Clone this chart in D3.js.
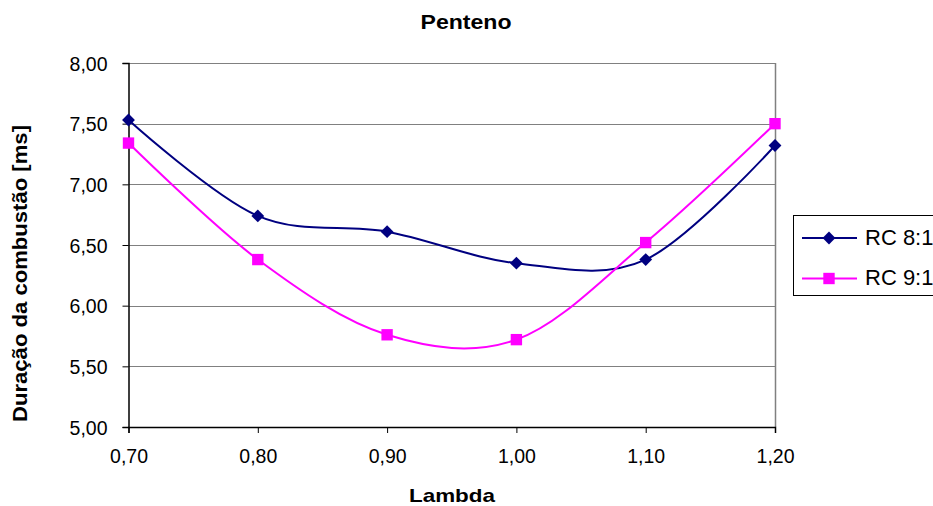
<!DOCTYPE html>
<html>
<head>
<meta charset="utf-8">
<script src="https://cdn.jsdelivr.net/npm/d3@7/dist/d3.min.js"></script>
<style>
  html, body { margin: 0; padding: 0; background: #fff; overflow: hidden; }
  svg { display: block; font-family: Arial, "Liberation Sans", sans-serif; }
</style>
</head>
<body>
<svg id="chart" width="933" height="506"></svg>
<script>
// Combustion duration vs. lambda for pentene at two compression ratios
const lambdas = [0.70, 0.80, 0.90, 1.00, 1.10, 1.20];
const rc8 = [7.53, 6.74, 6.61, 6.35, 6.38, 7.32];
const rc9 = [7.34, 6.38, 5.76, 5.72, 6.52, 7.50];
const seriesNames = ["RC 8:1", "RC 9:1"];
const seriesColors = ["#000080", "#FF00FF"];
const yTicks = [5.00, 5.50, 6.00, 6.50, 7.00, 7.50, 8.00];
const xTicks = [0.70, 0.80, 0.90, 1.00, 1.10, 1.20];

const svg = d3.select("#chart");
const margin = { left: 128.5, right: 775, top: 63, bottom: 427 };
const FONT = "Arial, 'Liberation Sans', sans-serif";

const x = d3.scaleLinear().domain([0.70, 1.20]).range([margin.left, margin.right]);
const y = d3.scaleLinear().domain([5, 8]).range([margin.bottom, margin.top]);

const locale = d3.formatLocale({ decimal: ",", thousands: ".", grouping: [3], currency: ["", ""] });
const fmt = locale.format(".2f");

// horizontal gridlines
svg.append("g")
  .selectAll("line")
  .data(yTicks.filter(d => d > 5))
  .join("line")
  .attr("x1", margin.left).attr("x2", margin.right)
  .attr("y1", d => Math.round(y(d)) + 0.5).attr("y2", d => Math.round(y(d)) + 0.5)
  .attr("stroke", "#808080").attr("stroke-width", 1);

// right border of plot area
svg.append("line")
  .attr("x1", margin.right + 0.5).attr("x2", margin.right + 0.5)
  .attr("y1", margin.top).attr("y2", margin.bottom)
  .attr("stroke", "#808080").attr("stroke-width", 1.5);

// axes
const yAxis = d3.axisLeft(y).tickValues(yTicks).tickFormat(fmt).tickSize(6).tickPadding(15);
const gy = svg.append("g").attr("transform", `translate(${margin.left},0)`).call(yAxis);
gy.select(".domain").attr("stroke", "#000").attr("stroke-width", 1.5);
gy.selectAll(".tick line").attr("stroke", "#000");
gy.selectAll(".tick text").attr("font-size", 19.5).attr("fill", "#000")
  .attr("font-family", FONT).attr("dy", "0.36em");

const xAxis = d3.axisBottom(x).tickValues(xTicks).tickFormat(fmt).tickSize(6).tickPadding(16.5);
const gx = svg.append("g").attr("transform", `translate(0,${margin.bottom})`).call(xAxis);
gx.select(".domain").attr("stroke", "#000").attr("stroke-width", 1.5);
gx.selectAll(".tick line").attr("stroke", "#000");
gx.selectAll(".tick text").attr("font-size", 19.5).attr("fill", "#000")
  .attr("font-family", FONT);

// series
const series = [rc8, rc9];
const line = d3.line()
  .x((d, i) => x(lambdas[i]))
  .y(d => y(d))
  .curve(d3.curveCardinal.tension(0));

const diamond = d3.symbol().type(d3.symbolDiamond2).size(105);
const square = d3.symbol().type(d3.symbolSquare2).size(165);
const markers = [diamond, square];

series.forEach((vals, s) => {
  svg.append("path")
    .datum(vals)
    .attr("d", line)
    .attr("fill", "none")
    .attr("stroke", seriesColors[s])
    .attr("stroke-width", 2);
  svg.append("g")
    .selectAll("path")
    .data(vals)
    .join("path")
    .attr("transform", (d, i) => `translate(${x(lambdas[i])},${y(d)})`)
    .attr("d", markers[s]())
    .attr("fill", seriesColors[s]);
});

// title and axis titles
svg.append("text")
  .attr("x", 466).attr("y", 28.5)
  .attr("text-anchor", "middle")
  .attr("font-size", 21).attr("font-weight", "bold")
  .attr("textLength", 91).attr("lengthAdjust", "spacingAndGlyphs")
  .text("Penteno");

svg.append("text")
  .attr("x", 452).attr("y", 502)
  .attr("text-anchor", "middle")
  .attr("font-size", 19).attr("font-weight", "bold")
  .attr("textLength", 86).attr("lengthAdjust", "spacingAndGlyphs")
  .text("Lambda");

svg.append("text")
  .attr("transform", "translate(27,273.5) rotate(-90)")
  .attr("text-anchor", "middle")
  .attr("font-size", 20).attr("font-weight", "bold")
  .attr("textLength", 297).attr("lengthAdjust", "spacingAndGlyphs")
  .text("Duração da combustão [ms]");

// legend
const lg = svg.append("g");
lg.append("rect")
  .attr("x", 793.5).attr("y", 215.5)
  .attr("width", 160).attr("height", 80)
  .attr("fill", "#fff").attr("stroke", "#000").attr("stroke-width", 1);

seriesNames.forEach((name, s) => {
  const yy = 238 + s * 40.5;
  lg.append("line")
    .attr("x1", 802).attr("x2", 857).attr("y1", yy).attr("y2", yy)
    .attr("stroke", seriesColors[s]).attr("stroke-width", 2);
  lg.append("path")
    .attr("transform", `translate(829,${yy})`)
    .attr("d", markers[s]())
    .attr("fill", seriesColors[s]);
  lg.append("text")
    .attr("x", 865).attr("y", yy + 6.5)
    .attr("font-size", 22)
    .text(name);
});
</script>
</body>
</html>
